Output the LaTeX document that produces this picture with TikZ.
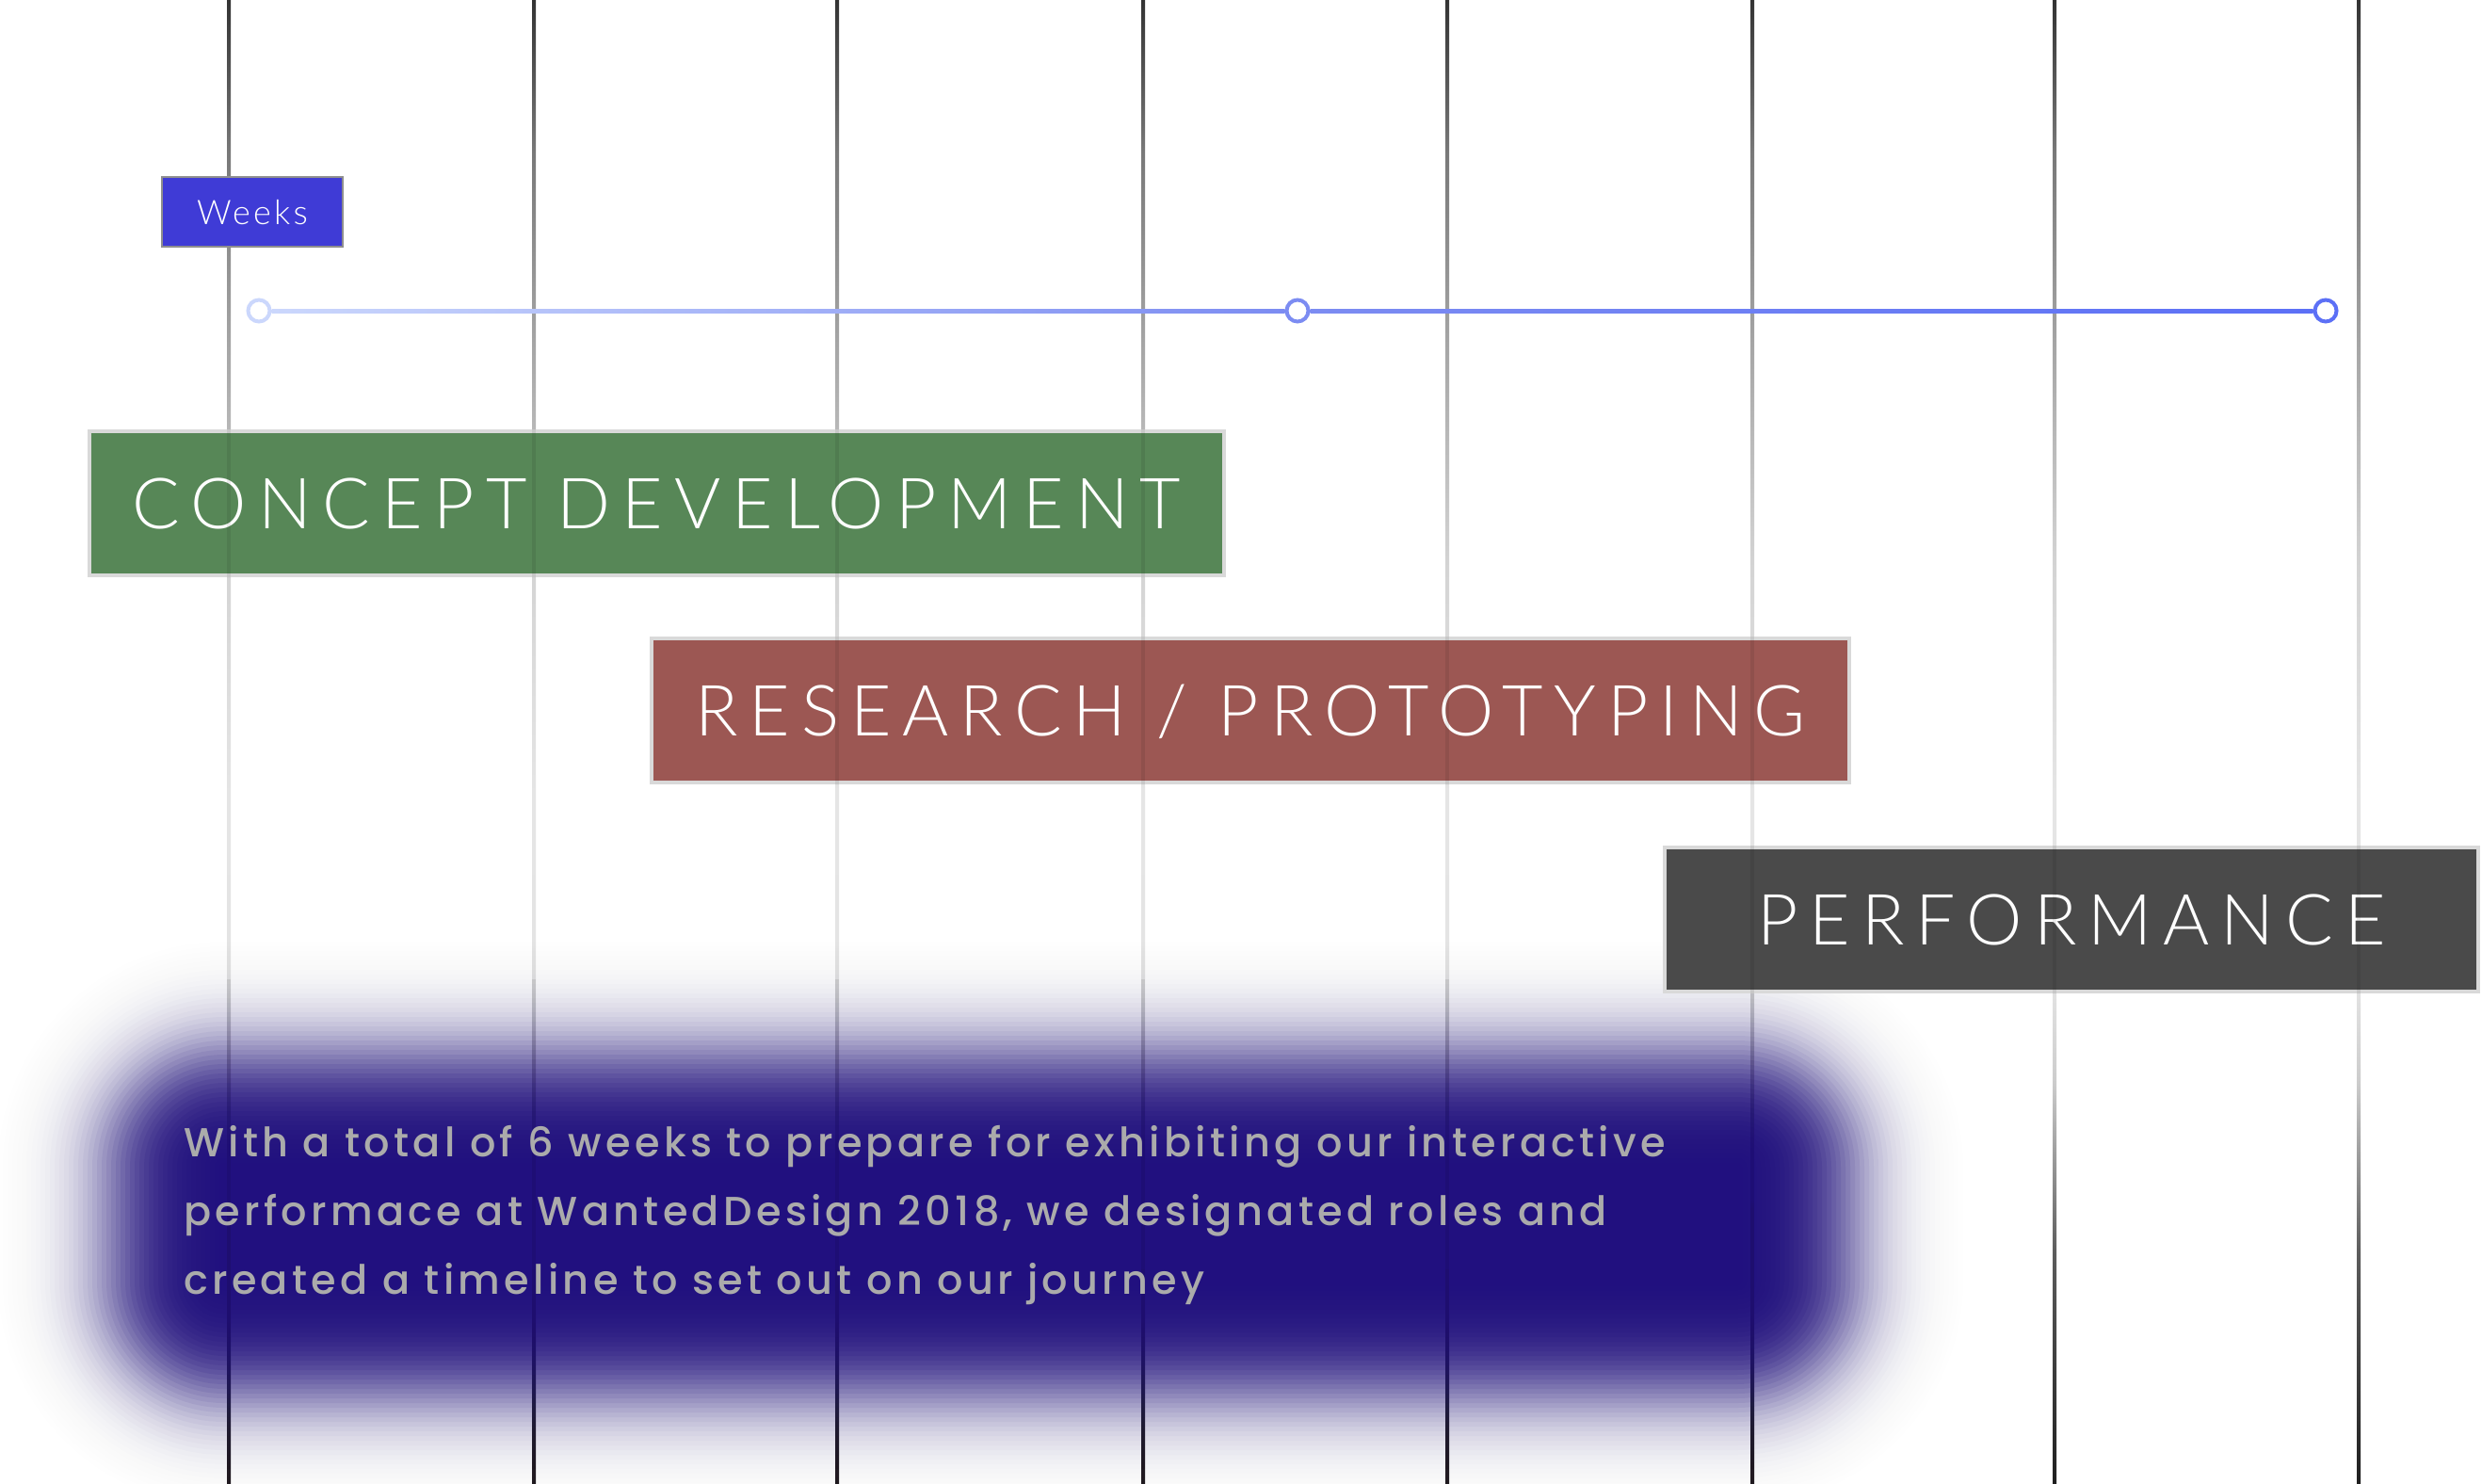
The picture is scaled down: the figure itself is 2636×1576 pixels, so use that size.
\documentclass[tikz,border=0pt]{standalone}
\usepackage{fontspec}
\newfontfamily\phasefont{Lato Light}[LetterSpace=16]
\newfontfamily\tagfont{Lato Light}[LetterSpace=9]
\newfontfamily\notefont{Poppins Medium}[LetterSpace=10]

\definecolor{conceptgreen}{HTML}{578757}
\definecolor{researchred}{HTML}{9C5753}
\definecolor{perfgray}{HTML}{4A4A4A}
\definecolor{boxedge}{HTML}{D9D9D9}
\definecolor{weekblue}{HTML}{3F3BD6}
\definecolor{weekedge}{HTML}{8E8E8E}
\definecolor{blobblue}{HTML}{21107F}
\definecolor{notegray}{HTML}{ABABAB}
\definecolor{tlA}{RGB}{203,215,252}
\definecolor{tlB}{RGB}{124,140,242}
\definecolor{tlC}{RGB}{92,112,246}

% grid line tone: dark at both ends, pale in the middle band
\pgfdeclareverticalshading{gridfade}{100bp}{%
  gray(0bp)=(0.12); gray(25bp)=(0.12); gray(32.8bp)=(0.36);
  gray(36.29bp)=(0.63); gray(38.52bp)=(0.80); gray(41.69bp)=(0.89);
  gray(48.03bp)=(0.90); gray(55.96bp)=(0.83); gray(62.94bp)=(0.66);
  gray(69.92bp)=(0.47); gray(75bp)=(0.20); gray(100bp)=(0.20)}

\tikzset{
  phase/.style={draw=boxedge, line width=4pt, text=white, inner sep=0pt,
    text height=54pt, text depth=0pt, minimum height=153pt,
    font=\phasefont\fontsize{75}{80}\selectfont},
  weektag/.style={fill=weekblue, draw=weekedge, line width=2.5pt, text=white,
    inner sep=0pt, minimum width=192pt, minimum height=74pt,
    text height=26pt, text depth=0pt,
    font=\tagfont\fontsize{36}{40}\selectfont},
  tick/.style={circle, line width=4pt, fill=white, minimum size=23pt, inner sep=0pt},
  notetext/.style={text=notegray, align=left, inner sep=0pt,
    font=\notefont\fontsize{43}{73}\selectfont},
}

\begin{document}
\begin{tikzpicture}[x=1pt, y=-1pt]
\useasboundingbox (0,0) rectangle (2636,1576);
\fill[white] (0,0) rectangle (2636,1576);

% week grid
\foreach \gx in {243,567,889,1214,1537,1861,2182,2505}
  \shade[shading=gridfade] ({\gx-2},0) rectangle ({\gx+2},1576);

% soft glow behind the note: stacked rounded rectangles whose opacities
% build a smooth (logistic) edge profile around the half-tone outline
\def\bl{118}\def\bt{1120}\def\br{1965}\def\bb{1480}
\def\kk{0.0370}% 1.702 / sigma, sigma = 46
\foreach \o in {130,125,...,-130}{
  \pgfmathsetmacro\rr{max(120+\o,4)}
  \pgfmathsetmacro\a{1-(1+exp(-\kk*(\o+2.5)))/(1+exp(-\kk*(\o-2.5)))}
  \fill[blobblue, fill opacity=\a, rounded corners=\rr pt]
    ({\bl-(\o)},{\bt-(\o)}) rectangle ({\br+(\o)},{\bb+(\o)});
}
\fill[blobblue] ({\bl+132},{\bt+132}) rectangle ({\br-132},{\bb-132});

% week label and timeline
\node[weektag] (weeks) at (268,225) {Weeks};
\node[tick, draw=tlA] (t0) at (275,330) {};
\node[tick, draw=tlB] (t1) at (1378,330) {};
\node[tick, draw=tlC] (t2) at (2470,330) {};
\shade[left color=tlA, right color=tlB] ([yshift=-2pt]t0.east) rectangle ([yshift=2pt]t1.west);
\shade[left color=tlB, right color=tlC] ([yshift=-2pt]t1.east) rectangle ([yshift=2pt]t2.west);

% phases
\node[phase, fill=conceptgreen, minimum width=1205pt] (concept) at (697.5,534.5) {CONCEPT DEVELOPMENT};
\node[phase, fill=researchred, minimum width=1272pt] (research) at (1328,754.5) {RESEARCH / PROTOTYPING};
\node[phase, fill=perfgray, minimum width=864pt] (performance) at (2200,976.5) {PERFORMANCE};

% grid lines faintly showing through the filled areas
\begin{scope}
  \clip (93,456) rectangle (1302,613) (690,676) rectangle (1966,833)
        (1766,898) rectangle (2636,1055) (40,1040) rectangle (2080,1560);
  \foreach \gx in {243,567,889,1214,1537,1861,2182,2505}
    \fill[black, opacity=0.08] ({\gx-2},0) rectangle ({\gx+2},1576);
\end{scope}

% note
\node[notetext, anchor=north west] (note) at (195,1195)
  {With a total of 6 weeks to prepare for exhibiting our interactive\\
   performace at WantedDesign 2018, we designated roles and\\
   created a timeline to set out on our journey};
\end{tikzpicture}
\end{document}
